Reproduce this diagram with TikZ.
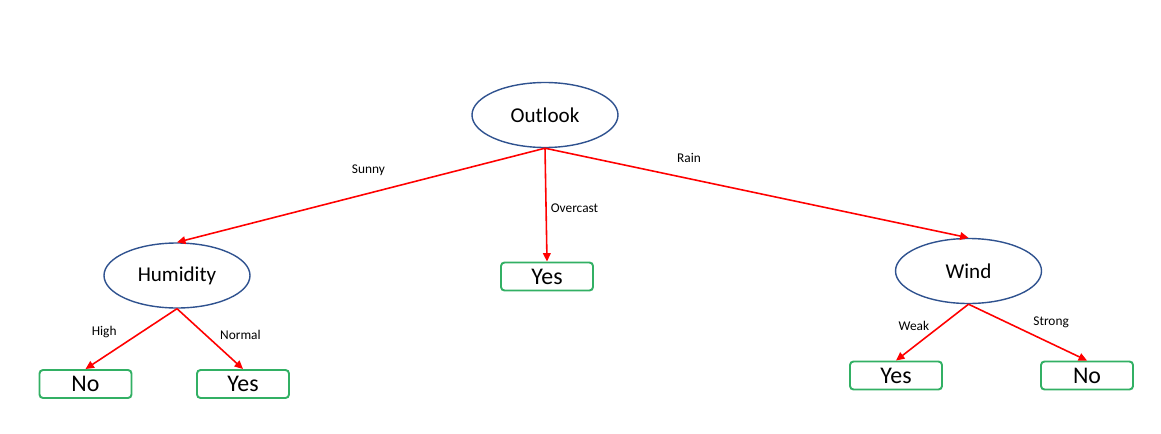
\documentclass[tikz,border=0pt]{standalone}
\usepackage{fontspec}
\setmainfont{Carlito}
\usetikzlibrary{shapes.geometric,arrows.meta}
\definecolor{ovalblue}{RGB}{47,82,143}
\definecolor{leafgreen}{RGB}{50,176,100}
\begin{document}
\begin{tikzpicture}[
    attr/.style={ellipse, draw=ovalblue, line width=0.4pt, minimum width=1.46cm, minimum height=0.65cm, inner sep=0pt, font=\fontsize{6}{7}\selectfont},
    leaf/.style={rectangle, draw=leafgreen, line width=0.55pt, rounded corners=1pt, minimum width=0.92cm, minimum height=0.28cm, inner sep=0pt, font=\fontsize{6.8}{7}\selectfont},
    arrow/.style={-{Triangle[length=2.4pt,width=2.2pt]}, red, line width=0.45pt},
    lbl/.style={font=\fontsize{3.8}{4}\selectfont, inner sep=0pt, text=black}
]
\useasboundingbox (0,0) rectangle (11.61,-4.33);

% Root
\node[attr] (outlook) at (5.45,-1.15) {Outlook};

% Second level
\node[attr] (humidity) at (1.77,-2.755) {Humidity};
\node[leaf] (yesmid) at (5.47,-2.765) {Yes};
\node[attr] (wind) at (9.685,-2.71) {Wind};

% Leaves
\node[leaf] (nohum) at (0.855,-3.84) {No};
\node[leaf] (yeshum) at (2.43,-3.84) {Yes};
\node[leaf] (yeswind) at (8.96,-3.755) {Yes};
\node[leaf] (nowind) at (10.87,-3.755) {No};

% Arrows - from root
\draw[arrow] (outlook.south) -- node[lbl, pos=0.48, above=0.17cm]{Sunny} (humidity.north);
\draw[arrow] (outlook.south) -- node[lbl, pos=0.53, right=0.04cm]{Overcast} (yesmid.north);
\draw[arrow] (outlook.south) -- node[lbl, pos=0.34, above=0.15cm]{Rain} (wind.north);

% Arrows - humidity
\draw[arrow] (humidity.south) -- node[lbl, pos=0.39, left=0.24cm]{High} (nohum.north);
\draw[arrow] (humidity.south) -- node[lbl, pos=0.43, right=0.14cm]{Normal} (yeshum.north);

% Arrows - wind
\draw[arrow] (wind.south) -- node[lbl, pos=0.38, left=0.11cm]{Weak} (yeswind.north);
\draw[arrow] (wind.south) -- node[lbl, pos=0.33, right=0.25cm]{Strong} (nowind.north);

\end{tikzpicture}
\end{document}
